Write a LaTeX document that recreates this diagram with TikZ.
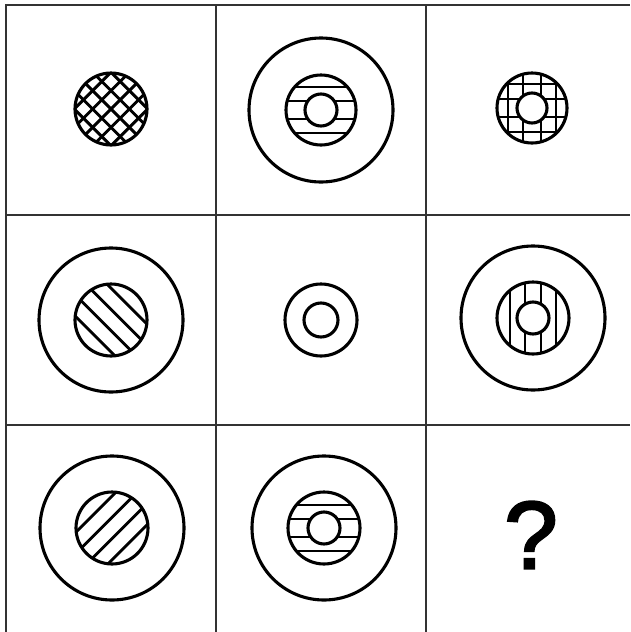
\documentclass[tikz,border=0pt]{standalone}
\usepackage{fontspec}
\setmainfont{Liberation Sans}
\newfontfamily\askfont[FakeBold=2.5]{Liberation Sans}

\begin{document}
\begin{tikzpicture}[x=1pt, y=-1pt,
    ring/.style={line width=3.1pt},
    hatch/.style={line width=2.9pt},
    frame/.style={line width=1.2pt, black!80}]
    \useasboundingbox (0,0) rectangle (630,632);

    % Grid
    \draw[frame] (6,632) -- (6,5) -- (630,5);
    \foreach \x in {216,426}
        \draw[frame] (\x,5) -- (\x,632);
    \foreach \y in {215,425}
        \draw[frame] (6,\y) -- (630,\y);

    % Row 1: cross-hatched disc
    \begin{scope}[shift={(111,109)}]
        \begin{scope}
            \clip (0,0) circle (36);
            \foreach \d in {-26,-13,0,13,26} {
                \draw[hatch, rotate=45] (-40,\d) -- (40,\d);
                \draw[hatch, rotate=-45] (-40,\d) -- (40,\d);
            }
        \end{scope}
        \draw[ring] (0,0) circle (36);
    \end{scope}

    % Row 1: ring with striped annulus
    \begin{scope}[shift={(321,110)}]
        \draw[ring] (0,0) circle (72);
        \begin{scope}
            \clip (0,0) circle (35);
            \foreach \d in {-23,-9,9,23}
                \draw[hatch] (-40,\d) -- (40,\d);
        \end{scope}
        \fill[white] (0,0) circle (16);
        \draw[ring] (0,0) circle (35);
        \draw[ring] (0,0) circle (16);
    \end{scope}

    % Row 1: gridded annulus
    \begin{scope}[shift={(532,108)}]
        \begin{scope}
            \clip (0,0) circle (35);
            \foreach \d in {-24,-9,9,24} {
                \draw[hatch] (-40,\d) -- (40,\d);
                \draw[hatch] (\d,-40) -- (\d,40);
            }
        \end{scope}
        \fill[white] (0,0) circle (15);
        \draw[ring] (0,0) circle (35);
        \draw[ring] (0,0) circle (15);
    \end{scope}

    % Row 2: ring with back-slashed disc
    \begin{scope}[shift={(111,320)}]
        \draw[ring] (0,0) circle (72);
        \begin{scope}
            \clip (0,0) circle (36);
            \foreach \d in {-22.5,-7.5,7.5,22.5}
                \draw[hatch, rotate=-45] (-40,\d) -- (40,\d);
        \end{scope}
        \draw[ring] (0,0) circle (36);
    \end{scope}

    % Row 2: small rings
    \begin{scope}[shift={(321,320)}]
        \draw[ring] (0,0) circle (36);
        \draw[ring] (0,0) circle (17);
    \end{scope}

    % Row 2: ring with vertical stripes
    \begin{scope}[shift={(533,318)}]
        \draw[ring] (0,0) circle (72);
        \begin{scope}
            \clip (0,0) circle (36);
            \foreach \d in {-23,-8,8,23}
                \draw[hatch] (\d,-40) -- (\d,40);
        \end{scope}
        \fill[white] (0,0) circle (16);
        \draw[ring] (0,0) circle (36);
        \draw[ring] (0,0) circle (16);
    \end{scope}

    % Row 3: ring with slashed disc
    \begin{scope}[shift={(112,528)}]
        \draw[ring] (0,0) circle (72);
        \begin{scope}
            \clip (0,0) circle (36);
            \foreach \d in {-22.5,-7.5,7.5,22.5}
                \draw[hatch, rotate=45] (-40,\d) -- (40,\d);
        \end{scope}
        \draw[ring] (0,0) circle (36);
    \end{scope}

    % Row 3: ring with striped annulus
    \begin{scope}[shift={(324,528)}]
        \draw[ring] (0,0) circle (72);
        \begin{scope}
            \clip (0,0) circle (36);
            \foreach \d in {-23,-9,9,23}
                \draw[hatch] (-40,\d) -- (40,\d);
        \end{scope}
        \fill[white] (0,0) circle (16);
        \draw[ring] (0,0) circle (36);
        \draw[ring] (0,0) circle (16);
    \end{scope}

    % Missing piece
    \node[inner sep=0] (ask) at (531,535) {\fontsize{96}{100}\selectfont\askfont ?};
\end{tikzpicture}
\end{document}
